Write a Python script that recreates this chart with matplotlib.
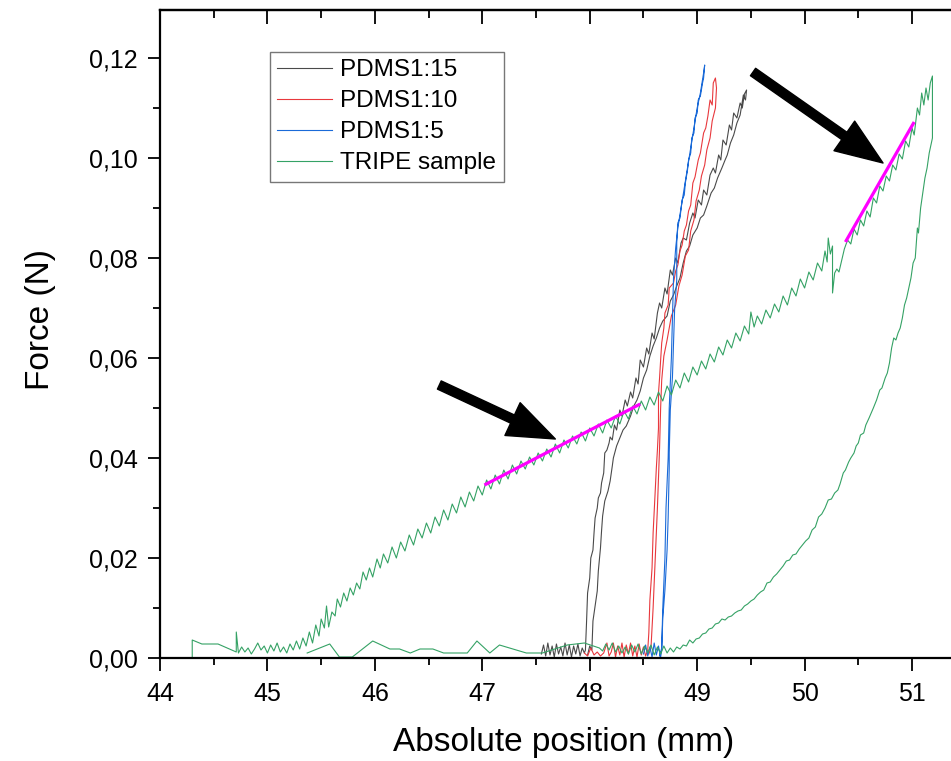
#
# Force vs absolute position (PDMS samples and TRIPE sample)
#
import matplotlib
matplotlib.use("Agg")
import matplotlib.pyplot as plt
from matplotlib.ticker import MultipleLocator, FuncFormatter

# PDMS1:15 : loading then unloading (x in mm, force in N)
pdms15 = [
    (47.55, 0.0008), (47.57, 0.0026), (47.59, 0.0004), (47.61, 0.0030), (47.63, 0.0006),
    (47.65, 0.0024), (47.67, 0.0002), (47.69, 0.0028), (47.71, 0.0008), (47.73, 0.0022),
    (47.75, 0.0004), (47.77, 0.0030), (47.79, 0.0006), (47.81, 0.0026), (47.83, 0.0002),
    (47.85, 0.0024), (47.87, 0.0008), (47.89, 0.0028), (47.91, 0.0004), (47.93, 0.0020),
    (47.95, 0.0010), (47.96, 0.0016), (47.97, 0.0070), (47.98, 0.0130), (48.00, 0.0160),
    (48.01, 0.0200), (48.03, 0.0216), (48.04, 0.0250), (48.05, 0.0280), (48.07, 0.0300),
    (48.08, 0.0320), (48.10, 0.0330), (48.11, 0.0350), (48.13, 0.0370), (48.14, 0.0410),
    (48.16, 0.0416), (48.18, 0.0430), (48.19, 0.0442), (48.21, 0.0436), (48.23, 0.0466),
    (48.25, 0.0456), (48.28, 0.0496), (48.30, 0.0484), (48.33, 0.0516), (48.35, 0.0504),
    (48.38, 0.0532), (48.40, 0.0520), (48.43, 0.0560), (48.45, 0.0548), (48.47, 0.0596),
    (48.50, 0.0582), (48.53, 0.0620), (48.55, 0.0608), (48.58, 0.0650), (48.60, 0.0638),
    (48.63, 0.0690), (48.65, 0.0710), (48.67, 0.0700), (48.70, 0.0740), (48.72, 0.0728),
    (48.75, 0.0776), (48.77, 0.0766), (48.80, 0.0800), (48.82, 0.0790), (48.85, 0.0830),
    (48.87, 0.0840), (48.90, 0.0836), (48.93, 0.0870), (48.96, 0.0890), (48.98, 0.0880),
    (49.01, 0.0916), (49.04, 0.0906), (49.06, 0.0936), (49.09, 0.0926), (49.12, 0.0966),
    (49.15, 0.0980), (49.17, 0.0970), (49.20, 0.1006), (49.22, 0.0996), (49.24, 0.1036),
    (49.27, 0.1026), (49.30, 0.1066), (49.32, 0.1056), (49.34, 0.1090), (49.37, 0.1080),
    (49.40, 0.1110), (49.42, 0.1100), (49.44, 0.1128), (49.46, 0.1136),
    (49.45, 0.1116), (49.43, 0.1126), (49.40, 0.1086), (49.37, 0.1070), (49.34, 0.1046),
    (49.31, 0.1030), (49.28, 0.1006), (49.26, 0.0996), (49.23, 0.0980), (49.19, 0.0960),
    (49.16, 0.0940), (49.13, 0.0930), (49.09, 0.0904), (49.06, 0.0886), (49.03, 0.0880),
    (49.00, 0.0860), (48.96, 0.0846), (48.93, 0.0824), (48.90, 0.0814), (48.87, 0.0790),
    (48.84, 0.0760), (48.81, 0.0744), (48.78, 0.0726), (48.75, 0.0714), (48.72, 0.0684),
    (48.68, 0.0674), (48.65, 0.0660), (48.62, 0.0640), (48.59, 0.0624), (48.56, 0.0604),
    (48.53, 0.0576), (48.50, 0.0560), (48.47, 0.0534), (48.44, 0.0516), (48.41, 0.0504),
    (48.38, 0.0484), (48.34, 0.0464), (48.31, 0.0456), (48.28, 0.0440), (48.25, 0.0424),
    (48.22, 0.0400), (48.21, 0.0384), (48.19, 0.0354), (48.17, 0.0334), (48.14, 0.0314),
    (48.12, 0.0284), (48.11, 0.0254), (48.10, 0.0220), (48.08, 0.0174), (48.07, 0.0134),
    (48.05, 0.0104), (48.03, 0.0074), (48.02, 0.0016), (48.00, 0.0024), (47.98, 0.0006),
]

# PDMS1:10
pdms10 = [
    (47.95, 0.0010), (47.98, 0.0004), (48.01, 0.0020), (48.04, 0.0006), (48.07, 0.0012),
    (48.10, 0.0004), (48.13, 0.0010), (48.16, 0.0030), (48.18, 0.0004), (48.20, 0.0012),
    (48.22, 0.0030), (48.24, 0.0002), (48.26, 0.0024), (48.28, 0.0006), (48.30, 0.0030),
    (48.32, 0.0002), (48.34, 0.0026), (48.36, 0.0008), (48.38, 0.0030), (48.40, 0.0004),
    (48.42, 0.0024), (48.44, 0.0002), (48.46, 0.0028), (48.48, 0.0006), (48.50, 0.0022),
    (48.52, 0.0004), (48.54, 0.0016), (48.55, 0.0050), (48.56, 0.0116), (48.58, 0.0180),
    (48.59, 0.0250), (48.61, 0.0336), (48.62, 0.0380), (48.63, 0.0416), (48.64, 0.0460),
    (48.64, 0.0530), (48.65, 0.0560), (48.66, 0.0596), (48.67, 0.0630), (48.69, 0.0660),
    (48.70, 0.0690), (48.73, 0.0706), (48.74, 0.0740), (48.78, 0.0750), (48.80, 0.0774),
    (48.82, 0.0786), (48.84, 0.0814), (48.86, 0.0826), (48.88, 0.0854), (48.90, 0.0866),
    (48.92, 0.0894), (48.94, 0.0906), (48.96, 0.0950), (48.98, 0.0962), (49.01, 0.0996),
    (49.03, 0.1010), (49.06, 0.1050), (49.08, 0.1060), (49.10, 0.1084), (49.12, 0.1116),
    (49.14, 0.1106), (49.15, 0.1150), (49.17, 0.1160),
    (49.18, 0.1140), (49.17, 0.1100), (49.14, 0.1074), (49.12, 0.1040), (49.09, 0.1016),
    (49.07, 0.0986), (49.04, 0.0964), (49.02, 0.0936), (48.99, 0.0914), (48.97, 0.0876),
    (48.94, 0.0854), (48.92, 0.0816), (48.89, 0.0804), (48.86, 0.0766), (48.83, 0.0744),
    (48.80, 0.0706), (48.76, 0.0684), (48.72, 0.0636), (48.69, 0.0604), (48.67, 0.0556),
    (48.66, 0.0500), (48.65, 0.0420), (48.63, 0.0300), (48.61, 0.0200), (48.59, 0.0100),
    (48.57, 0.0020), (48.55, 0.0008),
]

# PDMS1:5
pdms5 = [
    (48.50, 0.0008), (48.52, 0.0026), (48.54, 0.0004), (48.56, 0.0022), (48.58, 0.0002),
    (48.60, 0.0030), (48.62, 0.0006), (48.64, 0.0024), (48.66, 0.0002), (48.67, 0.0016),
    (48.68, 0.0080), (48.70, 0.0136), (48.72, 0.0216), (48.73, 0.0280), (48.74, 0.0380),
    (48.74, 0.0410), (48.75, 0.0496), (48.77, 0.0562), (48.78, 0.0630), (48.79, 0.0696),
    (48.81, 0.0756), (48.81, 0.0830), (48.82, 0.0870), (48.84, 0.0880), (48.86, 0.0916),
    (48.88, 0.0926), (48.89, 0.0950), (48.91, 0.0976), (48.92, 0.0996), (48.94, 0.1010),
    (48.95, 0.1040), (48.97, 0.1050), (48.98, 0.1080), (49.00, 0.1090), (49.01, 0.1116),
    (49.03, 0.1124), (49.05, 0.1150), (49.06, 0.1160), (49.07, 0.1186),
    (49.06, 0.1170), (49.03, 0.1130), (49.00, 0.1100), (48.97, 0.1060), (48.94, 0.1020),
    (48.91, 0.0980), (48.88, 0.0940), (48.85, 0.0900), (48.82, 0.0860), (48.80, 0.0820),
    (48.78, 0.0760), (48.77, 0.0680), (48.76, 0.0600), (48.74, 0.0500), (48.73, 0.0400),
    (48.71, 0.0300), (48.70, 0.0200), (48.68, 0.0100), (48.67, 0.0020), (48.65, 0.0004),
]

# TRIPE sample : loading, unloading, return along the bottom
tripe = [
    (44.30, 0.0002), (44.30, 0.0036), (44.39, 0.0028), (44.54, 0.0028), (44.71, 0.0012),
    (44.71, 0.0052), (44.73, 0.0010), (44.76, 0.0022), (44.79, 0.0012), (44.82, 0.0020),
    (44.85, 0.0008), (44.88, 0.0018), (44.91, 0.0030), (44.94, 0.0016), (44.97, 0.0024),
    (45.00, 0.0010), (45.03, 0.0026), (45.06, 0.0014), (45.09, 0.0030), (45.12, 0.0012),
    (45.15, 0.0022), (45.18, 0.0010), (45.21, 0.0028), (45.24, 0.0016), (45.27, 0.0034),
    (45.30, 0.0018), (45.33, 0.0040), (45.36, 0.0024), (45.39, 0.0052), (45.42, 0.0030),
    (45.45, 0.0066), (45.48, 0.0044), (45.50, 0.0078), (45.53, 0.0060), (45.55, 0.0104),
    (45.57, 0.0062), (45.60, 0.0092), (45.63, 0.0084), (45.65, 0.0118), (45.68, 0.0102),
    (45.71, 0.0130), (45.74, 0.0114), (45.77, 0.0140), (45.80, 0.0126), (45.83, 0.0150),
    (45.86, 0.0138), (45.89, 0.0172), (45.92, 0.0156), (45.95, 0.0180), (45.98, 0.0162),
    (46.02, 0.0198), (46.05, 0.0180), (46.08, 0.0208), (46.12, 0.0190), (46.16, 0.0222),
    (46.20, 0.0200), (46.24, 0.0232), (46.28, 0.0214), (46.32, 0.0246), (46.36, 0.0226),
    (46.40, 0.0258), (46.44, 0.0240), (46.48, 0.0270), (46.52, 0.0250), (46.56, 0.0282),
    (46.60, 0.0264), (46.64, 0.0296), (46.68, 0.0276), (46.72, 0.0308), (46.76, 0.0290),
    (46.80, 0.0322), (46.84, 0.0302), (46.88, 0.0332), (46.92, 0.0314), (46.96, 0.0344),
    (47.00, 0.0326), (47.04, 0.0356), (47.08, 0.0338), (47.12, 0.0366), (47.16, 0.0348),
    (47.20, 0.0376), (47.24, 0.0358), (47.28, 0.0386), (47.32, 0.0368), (47.36, 0.0394),
    (47.40, 0.0378), (47.44, 0.0402), (47.48, 0.0386), (47.52, 0.0410), (47.56, 0.0394),
    (47.60, 0.0418), (47.64, 0.0402), (47.68, 0.0428), (47.72, 0.0410), (47.76, 0.0436),
    (47.80, 0.0420), (47.84, 0.0444), (47.88, 0.0428), (47.92, 0.0452), (47.96, 0.0434),
    (48.00, 0.0460), (48.04, 0.0444), (48.08, 0.0468), (48.12, 0.0450), (48.16, 0.0476),
    (48.20, 0.0460), (48.24, 0.0484), (48.28, 0.0468), (48.32, 0.0494), (48.36, 0.0478),
    (48.40, 0.0504), (48.44, 0.0488), (48.48, 0.0514), (48.52, 0.0496), (48.56, 0.0522),
    (48.60, 0.0506), (48.64, 0.0532), (48.68, 0.0514), (48.72, 0.0544), (48.76, 0.0526),
    (48.80, 0.0556), (48.84, 0.0540), (48.88, 0.0570), (48.92, 0.0552), (48.96, 0.0582),
    (49.00, 0.0566), (49.04, 0.0594), (49.08, 0.0578), (49.12, 0.0608), (49.16, 0.0592),
    (49.20, 0.0622), (49.24, 0.0606), (49.28, 0.0636), (49.32, 0.0620), (49.36, 0.0650),
    (49.40, 0.0634), (49.44, 0.0664), (49.48, 0.0648), (49.50, 0.0692), (49.53, 0.0662),
    (49.56, 0.0684), (49.60, 0.0668), (49.64, 0.0696), (49.68, 0.0680), (49.72, 0.0708),
    (49.76, 0.0692), (49.80, 0.0724), (49.84, 0.0706), (49.88, 0.0740), (49.92, 0.0724),
    (49.96, 0.0758), (50.00, 0.0740), (50.04, 0.0772), (50.08, 0.0756), (50.12, 0.0790),
    (50.16, 0.0774), (50.19, 0.0814), (50.21, 0.0792), (50.22, 0.0840), (50.24, 0.0808),
    (50.26, 0.0824), (50.26, 0.0730), (50.28, 0.0770), (50.30, 0.0778), (50.32, 0.0772),
    (50.35, 0.0800), (50.37, 0.0818), (50.40, 0.0836), (50.43, 0.0828), (50.46, 0.0858),
    (50.49, 0.0846), (50.52, 0.0876), (50.55, 0.0864), (50.58, 0.0894), (50.61, 0.0882),
    (50.64, 0.0920), (50.67, 0.0910), (50.70, 0.0944), (50.73, 0.0934), (50.76, 0.0964),
    (50.79, 0.0954), (50.82, 0.0986), (50.85, 0.0976), (50.88, 0.1008), (50.91, 0.0998),
    (50.94, 0.1034), (50.97, 0.1022), (51.00, 0.1060), (51.02, 0.1046), (51.05, 0.1100),
    (51.07, 0.1086), (51.09, 0.1130), (51.11, 0.1106), (51.13, 0.1140), (51.15, 0.1116),
    (51.17, 0.1150), (51.19, 0.1164),
    (51.19, 0.1040), (51.16, 0.1010), (51.14, 0.0980), (51.12, 0.0960), (51.10, 0.0930),
    (51.09, 0.0916), (51.08, 0.0900), (51.06, 0.0850), (51.05, 0.0860), (51.03, 0.0800),
    (51.01, 0.0790), (50.99, 0.0760), (50.97, 0.0740), (50.95, 0.0720), (50.93, 0.0706),
    (50.91, 0.0680), (50.89, 0.0660), (50.87, 0.0650), (50.85, 0.0636), (50.83, 0.0640),
    (50.81, 0.0620), (50.79, 0.0590), (50.77, 0.0570), (50.75, 0.0560), (50.72, 0.0540),
    (50.70, 0.0536), (50.67, 0.0516), (50.64, 0.0500), (50.62, 0.0490), (50.60, 0.0480),
    (50.57, 0.0466), (50.55, 0.0450), (50.52, 0.0446), (50.50, 0.0430), (50.48, 0.0424),
    (50.46, 0.0410), (50.43, 0.0400), (50.41, 0.0392), (50.38, 0.0376), (50.36, 0.0370),
    (50.33, 0.0348), (50.31, 0.0336), (50.28, 0.0330), (50.25, 0.0318), (50.22, 0.0316),
    (50.19, 0.0300), (50.16, 0.0288), (50.13, 0.0282), (50.10, 0.0262), (50.07, 0.0256),
    (50.04, 0.0240), (50.01, 0.0234), (49.98, 0.0226), (49.95, 0.0218), (49.92, 0.0208),
    (49.89, 0.0206), (49.86, 0.0196), (49.83, 0.0194), (49.80, 0.0184), (49.77, 0.0176),
    (49.74, 0.0168), (49.71, 0.0162), (49.68, 0.0152), (49.65, 0.0150), (49.62, 0.0136),
    (49.59, 0.0132), (49.56, 0.0126), (49.53, 0.0118), (49.50, 0.0114), (49.47, 0.0108),
    (49.44, 0.0104), (49.41, 0.0096), (49.38, 0.0094), (49.35, 0.0090), (49.32, 0.0084),
    (49.29, 0.0082), (49.26, 0.0076), (49.23, 0.0078), (49.20, 0.0070), (49.17, 0.0068),
    (49.14, 0.0060), (49.11, 0.0058), (49.08, 0.0050), (49.05, 0.0048), (49.02, 0.0040),
    (48.99, 0.0038), (48.96, 0.0030), (48.93, 0.0036), (48.90, 0.0024), (48.87, 0.0026),
    (48.84, 0.0018), (48.81, 0.0022), (48.78, 0.0012), (48.75, 0.0020), (48.72, 0.0010),
    (48.69, 0.0024), (48.66, 0.0008), (48.63, 0.0022), (48.60, 0.0006), (48.57, 0.0026),
    (48.54, 0.0010), (48.51, 0.0024), (48.48, 0.0008), (48.45, 0.0028), (48.42, 0.0012),
    (48.39, 0.0026), (48.36, 0.0008), (48.33, 0.0022), (48.30, 0.0010), (48.27, 0.0024),
    (48.24, 0.0012), (48.21, 0.0030), (48.18, 0.0016), (48.15, 0.0028), (48.12, 0.0014),
    (48.09, 0.0020), (47.95, 0.0030), (47.79, 0.0026), (47.56, 0.0010), (47.41, 0.0010),
    (47.16, 0.0026), (47.07, 0.0010), (46.95, 0.0034), (46.86, 0.0010), (46.64, 0.0010),
    (46.54, 0.0018), (46.42, 0.0018), (46.33, 0.0010), (46.23, 0.0018), (46.14, 0.0018),
    (45.98, 0.0034), (45.79, 0.0002), (45.67, 0.0002), (45.58, 0.0028), (45.37, 0.0010),
]

# linear fits (magenta) and arrows (tail -> tip)
fit_low = [(47.02, 0.0346), (48.47, 0.0508)]
fit_high = [(50.38, 0.0832), (51.02, 0.1072)]
arrows = [((46.60, 0.0546), (47.68, 0.0438)), ((49.52, 0.1172), (50.73, 0.0990))]

series_names = ["PDMS1:15", "PDMS1:10", "PDMS1:5", "TRIPE sample"]
series_colors = ["#4a4a4a", "#e8383d", "#1a6ad8", "#35a265"]


def comma(v, pos):
    return "{0:.2f}".format(v).replace(".", ",")


def main():
    plt.rcParams["font.family"] = ["Liberation Sans", "DejaVu Sans"]
    fig = plt.figure(figsize=(9.51, 7.61), dpi=100)
    ax = fig.add_axes([160 / 951, 103 / 761, 795 / 951, 648 / 761])

    for data, name, col in zip([pdms15, pdms10, pdms5, tripe], series_names, series_colors):
        xs = [p[0] for p in data]
        ys = [p[1] for p in data]
        ax.plot(xs, ys, color=col, lw=0.8, label=name)

    for fit in [fit_low, fit_high]:
        ax.plot([p[0] for p in fit], [p[1] for p in fit], color="#ff00ff", lw=2.3, solid_capstyle="butt")

    for tail, tip in arrows:
        ax.annotate("", xy=tip, xytext=tail,
                    arrowprops=dict(arrowstyle="simple,head_length=3.4,head_width=2.6,tail_width=0.65",
                                    color="black", mutation_scale=10, shrinkA=0, shrinkB=0))

    ax.set_xlim(44, 51.40)
    ax.set_ylim(0, 0.1296)
    ax.xaxis.set_major_locator(MultipleLocator(1))
    ax.xaxis.set_minor_locator(MultipleLocator(0.5))
    ax.yaxis.set_major_locator(MultipleLocator(0.02))
    ax.yaxis.set_minor_locator(MultipleLocator(0.01))
    ax.yaxis.set_major_formatter(FuncFormatter(comma))
    ax.tick_params(which="both", direction="out", width=1.3, labelsize=18, top=False, right=False)
    ax.tick_params(which="major", length=9)
    ax.tick_params(which="minor", length=5)
    ax.tick_params(axis="x", pad=8)
    ax.tick_params(axis="y", pad=7)
    for s in ["left", "bottom", "top"]:
        ax.spines[s].set_linewidth(1.6)
    ax.spines["right"].set_visible(False)

    top = ax.secondary_xaxis("top")
    top.xaxis.set_major_locator(MultipleLocator(1))
    top.xaxis.set_minor_locator(MultipleLocator(0.5))
    top.tick_params(which="both", direction="in", width=1.3, labeltop=False)
    top.tick_params(which="major", length=10)
    top.tick_params(which="minor", length=6)
    top.spines["top"].set_linewidth(1.6)

    fig.text(564 / 951, 1 - 742 / 761, "Absolute position (mm)", fontsize=24, ha="center", va="center")
    fig.text(40 / 951, 1 - 320 / 761, "Force (N)", fontsize=24, ha="center", va="center", rotation=90)

    leg = ax.legend(loc="upper left", bbox_to_anchor=(270 / 951, 1 - 52 / 761),
                    bbox_transform=fig.transFigure, fontsize=17.5, frameon=True, fancybox=False,
                    borderpad=0.3, labelspacing=0.37, handlelength=2.25, handletextpad=0.35,
                    borderaxespad=0)
    leg.get_frame().set_edgecolor("#555555")
    leg.get_frame().set_linewidth(1.0)

    fig.savefig("out.png", dpi=100)


if __name__ == "__main__":
    main()
